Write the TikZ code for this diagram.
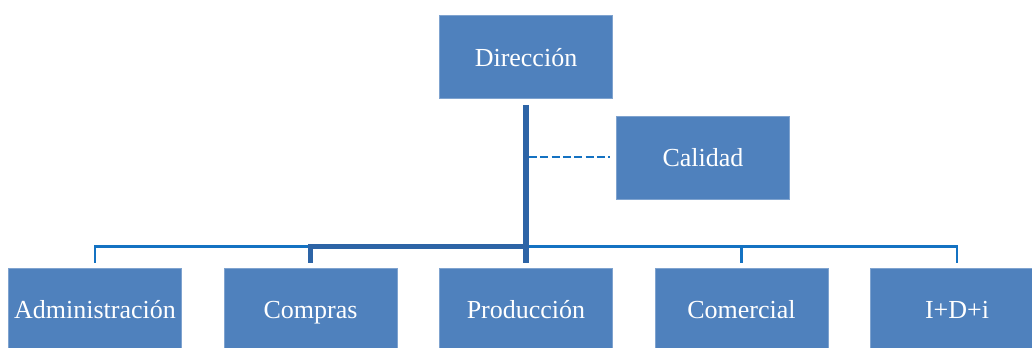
\documentclass[tikz,border=0pt]{standalone}
\usepackage{fontspec}
\setmainfont{Liberation Serif}
\definecolor{boxblue}{HTML}{4F81BD}
\definecolor{boxedge}{HTML}{7FA3CF}
\definecolor{thickblue}{HTML}{2D64A6}
\definecolor{thinblue}{HTML}{1472C2}
\tikzset{
  unit/.style={rectangle, fill=boxblue, draw=boxedge, line width=0.6pt,
    minimum width=129.75pt, minimum height=62.25pt, inner sep=0pt,
    text height=13.5pt, text depth=0pt,
    text=white, font=\fontsize{19.5}{22}\selectfont},
  mainline/.style={draw=thickblue, line width=4pt},
  branchline/.style={draw=thinblue, line width=1.8pt},
  dashline/.style={draw=thinblue, line width=1.6pt, dash pattern=on 6pt off 2.5pt},
}
\begin{document}
\begin{tikzpicture}[x=0.75pt,y=-0.75pt]
\useasboundingbox (0,0) rectangle (1032,347);
\clip (0,0) rectangle (1032,347);
\node[unit] (dir) at (526,57) {Dirección};
\node[unit] (cal) at (703,157.5) {Calidad};
\node[unit] (adm) at (95,309.5) {Administración};
\node[unit] (com) at (310.5,309.5) {Compras};
\node[unit] (pro) at (526,309.5) {Producción};
\node[unit] (cme) at (741.5,309.5) {Comercial};
\node[unit] (idi) at (957,309.5) {I+D+i};
\coordinate (bus) at (0,246.5);
\coordinate (dash) at (0,157);
% thin bus
\draw[branchline] ([yshift=3.75pt]adm.north) -- (adm.north |- bus) -- (idi.north |- bus) -- ([yshift=3.75pt]idi.north);
\draw[branchline] (cme.north |- bus) -- ([yshift=3.75pt]cme.north);
% thick main
\draw[mainline] ([yshift=3.75pt]com.north) -- (com.north |- bus) -- (pro.north |- bus);
\draw[mainline] ([yshift=-4.5pt]dir.south) -- ([yshift=3.75pt]pro.north);
% dashed to Calidad
\draw[dashline] ([xshift=2.25pt]dir.south |- dash) -- ([xshift=-4.5pt]cal.west |- dash);
\end{tikzpicture}
\end{document}
